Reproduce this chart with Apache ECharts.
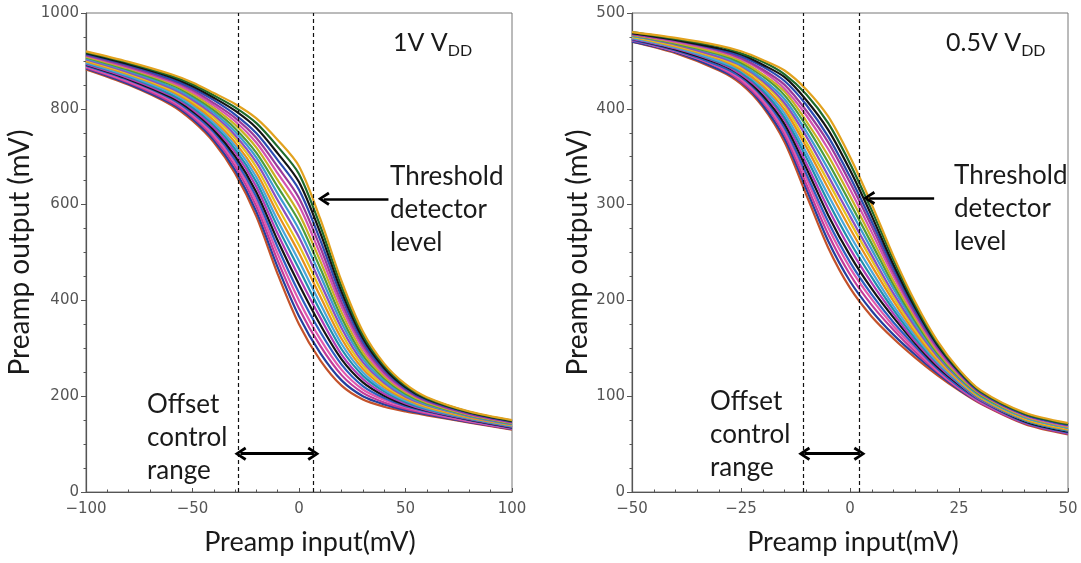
<!DOCTYPE html>
<html><head><meta charset="utf-8">
<script src="https://cdn.jsdelivr.net/npm/echarts@6/dist/echarts.min.js"></script>
<style>html,body{margin:0;padding:0;background:#fff}#c{width:1081px;height:563px}</style>
</head><body><div id="c"></div>
<script>
// ---------- data: 1V VDD panel ----------
const xLeft = [-100,-80,-60,-50,-40,-30,-20,-10,0,10,20,30,40,50,60,80,100];
const curvesLeft = [
  [882,850,808,775,730,665,575,455,350,275,222,193,178,168,160,145,130],
  [884,852,811,779,735,672,585,469,367,290,233,200,183,171,162,146,131],
  [886,855,814,783,740,680,596,483,383,305,244,207,187,174,164,147,132],
  [888,857,818,787,745,687,606,497,400,319,255,214,192,177,166,148,133],
  [890,860,821,791,751,694,616,511,416,334,266,221,196,179,168,150,134],
  [892,862,824,795,756,701,626,525,433,349,277,229,201,182,170,151,135],
  [893,864,827,799,761,709,637,539,449,364,287,236,205,185,171,152,136],
  [895,867,830,803,766,716,647,553,466,378,298,243,210,188,173,153,137],
  [897,869,834,807,771,723,657,567,482,393,309,250,214,191,175,154,138],
  [899,872,837,811,776,730,667,581,499,408,320,257,219,194,177,155,139],
  [901,874,840,815,782,738,678,595,515,423,331,264,223,197,179,157,140],
  [903,876,843,819,787,745,688,609,532,437,342,271,228,199,181,158,141],
  [905,879,846,823,792,752,698,623,548,452,353,278,232,202,183,159,142],
  [907,881,850,827,797,759,708,637,565,467,364,285,237,205,185,160,143],
  [909,884,853,831,802,767,719,651,581,482,375,292,241,208,187,161,144],
  [911,886,856,835,807,774,729,665,598,496,386,300,246,211,189,162,145],
  [912,888,859,839,812,781,739,679,614,511,396,307,250,214,190,163,146],
  [914,891,862,843,818,788,749,693,631,526,407,314,255,216,192,165,147],
  [916,893,866,847,823,796,760,707,647,541,418,321,259,219,194,166,148],
  [918,896,869,851,828,803,770,721,664,555,429,328,264,222,196,167,149],
  [920,898,872,855,833,810,780,735,680,570,440,335,268,225,198,168,150]
];
const offsetLinesLeft = [-28.5, 6.5];
const rangeArrowLeft = [[-27.5, 80], [6.8, 80]];
const thresholdArrowLeft = [[42, 612], [11.6, 612]];

// ---------- data: 0.5V VDD panel ----------
const xRight = [-50,-40,-30,-25,-20,-15,-10,-5,0,5,10,15,20,25,30,40,50];
const curvesRight = [
  [470,458,440,426,402,365,310,255,213,183,160,140,122,106,92,71,60],
  [470,459,441,428,404,369,316,262,220,189,164,143,124,107,93,72,61],
  [471,460,443,429,407,373,321,269,227,195,169,146,126,108,93,72,61],
  [472,460,444,431,409,376,327,276,234,201,173,149,127,109,94,73,62],
  [472,461,445,433,412,380,332,282,240,206,177,152,129,110,95,73,62],
  [473,462,447,435,414,384,338,289,247,212,182,155,131,112,96,74,63],
  [473,463,448,436,417,388,343,296,254,218,186,157,133,113,96,75,64],
  [474,464,449,438,419,391,349,303,261,224,190,160,135,114,97,75,64],
  [474,464,450,440,422,395,354,310,268,230,194,163,136,115,98,76,65],
  [475,465,452,441,424,399,360,317,275,236,199,166,138,116,98,76,65],
  [475,466,453,443,427,403,365,324,282,242,203,169,140,117,99,77,66],
  [476,467,454,445,429,406,371,330,288,247,207,172,142,118,100,78,67],
  [476,468,456,446,431,410,376,337,295,253,212,175,144,119,100,78,67],
  [477,468,457,448,434,414,382,344,302,259,216,178,145,120,101,79,68],
  [477,469,458,450,436,418,387,351,309,265,220,181,147,121,102,79,68],
  [478,470,460,452,439,421,393,358,316,271,225,184,149,123,103,80,69],
  [478,471,461,453,441,425,398,365,323,277,229,186,151,124,103,81,70],
  [479,472,462,455,444,429,404,371,329,282,233,189,153,125,104,81,70],
  [479,472,463,457,446,433,409,378,336,288,237,192,154,126,105,82,71],
  [480,473,465,458,449,436,415,385,343,294,242,195,156,127,105,82,71],
  [480,474,466,460,451,440,420,392,350,300,246,198,158,128,106,83,72]
];
const offsetLinesRight = [-10.8, 2.1];
const rangeArrowRight = [[-10.5, 40], [2.2, 40]];
const thresholdArrowRight = [[19.3, 307], [4.4, 307]];

const curveColors = ['#c4522a','#22409e','#c23b98','#e05aae','#2d5fc0','#141414','#b23cb6',
  '#1f8fae','#4ba6da','#e8901c','#e6c21f','#8a50c0','#3c9bd2','#4c9c3c','#c9b022',
  '#d253b0','#9a3a9a','#2b4bb0','#141414','#1e6a2c','#e2a21e'];

// ---------- chart ----------
const TXT = '#1a1a1a';
const FONT = 'Lato';
const chevron = 'path://M5,0 L10,8 L8.2,9.2 L5,3.6 L1.8,9.2 L0,8 Z';
const tickFmt = v => String(v).replace('-', '\u2212');

function makeX(idx, min, max, interval, minorSplit, shift) {
  return {
    type: 'value', gridIndex: idx, min, max, interval,
    name: 'Preamp input(mV)', nameLocation: 'middle', nameGap: 37,
    nameTextStyle: {fontFamily: FONT, fontSize: 27, color: TXT, padding: [0, 0, 0, shift]},
    axisLine: {show: true, onZero: false, lineStyle: {color: '#555', width: 1.2}},
    axisTick: {show: true, inside: true, length: 4, lineStyle: {color: '#555'}},
    minorTick: {show: true, splitNumber: minorSplit, length: 2.5, lineStyle: {color: '#555'}},
    axisLabel: {fontFamily: 'DejaVu Sans', fontSize: 15, color: '#555', margin: 10, formatter: tickFmt},
    splitLine: {show: false}
  };
}
function makeY(idx, min, max, interval, nameGap) {
  return {
    type: 'value', gridIndex: idx, min, max, interval,
    name: 'Preamp output (mV)', nameLocation: 'middle', nameGap,
    nameTextStyle: {fontFamily: FONT, fontSize: 28, color: TXT},
    axisLine: {show: true, onZero: false, lineStyle: {color: '#555', width: 1.2}},
    axisTick: {show: true, inside: false, length: 5, lineStyle: {color: '#555'}},
    minorTick: {show: true, splitNumber: 4, length: 2.5, lineStyle: {color: '#555'}},
    axisLabel: {fontFamily: 'DejaVu Sans', fontSize: 15, color: '#555', margin: 7, formatter: tickFmt},
    splitLine: {show: false}
  };
}

const series = [];
function addCurves(xs, curves, gi) {
  curves.forEach((ys, k) => {
    series.push({
      type: 'line', xAxisIndex: gi, yAxisIndex: gi, silent: true, z: 2,
      data: xs.map((x, i) => [x, ys[i]]),
      smooth: 0.3, showSymbol: false, symbol: 'none',
      lineStyle: {width: 2.2, color: curveColors[k]}
    });
  });
}
function addAnnotations(gi, offsets, rangeArrow, thrArrow) {
  series.push({
    type: 'line', xAxisIndex: gi, yAxisIndex: gi, data: [], z: 5, silent: true,
    markLine: {silent: true, symbol: 'none', animation: false,
      lineStyle: {type: [4, 3], color: '#111', width: 1.2}, label: {show: false},
      data: offsets.map(v => ({xAxis: v}))}
  });
  series.push({
    type: 'line', xAxisIndex: gi, yAxisIndex: gi, data: [], z: 6, silent: true,
    markLine: {silent: true, symbol: [chevron, chevron], symbolSize: [14, 12], animation: false,
      lineStyle: {type: 'solid', color: '#000', width: 2.8}, label: {show: false},
      data: [[{coord: rangeArrow[0]}, {coord: rangeArrow[1]}]]}
  });
  series.push({
    type: 'line', xAxisIndex: gi, yAxisIndex: gi, data: [], z: 6, silent: true,
    markLine: {silent: true, symbol: ['none', chevron], symbolSize: [14, 12], animation: false,
      lineStyle: {type: 'solid', color: '#000', width: 2.6}, label: {show: false},
      data: [[{coord: thrArrow[0]}, {coord: thrArrow[1]}]]}
  });
}
addCurves(xLeft, curvesLeft, 0);
addCurves(xRight, curvesRight, 1);
addAnnotations(0, offsetLinesLeft, rangeArrowLeft, thresholdArrowLeft);
addAnnotations(1, offsetLinesRight, rangeArrowRight, thresholdArrowRight);

const annStyle = {fontFamily: FONT, fontSize: 26, fill: TXT, lineHeight: 33};
function vdd(label) {
  return {text: '{a|' + label + ' V}{b|DD}', rich: {
    a: {fontFamily: FONT, fontSize: 25, fill: TXT, lineHeight: 32},
    b: {fontFamily: FONT, fontSize: 16, fill: TXT, lineHeight: 14, verticalAlign: 'bottom'}
  }};
}

const option = {
  animation: false,
  backgroundColor: '#fff',
  grid: [
    {left: 86, top: 13, width: 426, height: 479, show: true, borderColor: '#777', borderWidth: 1, backgroundColor: 'transparent'},
    {left: 632, top: 13, width: 436, height: 479, show: true, borderColor: '#777', borderWidth: 1, backgroundColor: 'transparent'}
  ],
  xAxis: [makeX(0, -100, 100, 50, 5, 22), makeX(1, -50, 50, 25, 5, 6)],
  yAxis: [makeY(0, 0, 1000, 200, 52), makeY(1, 0, 500, 100, 40)],
  series,
  graphic: [
    {type: 'text', left: 393, top: 30, style: vdd('1V')},
    {type: 'text', left: 946, top: 30, style: vdd('0.5V')},
    {type: 'text', left: 390, top: 160, style: Object.assign({text: 'Threshold\ndetector\nlevel'}, annStyle)},
    {type: 'text', left: 954, top: 159, style: Object.assign({text: 'Threshold\ndetector\nlevel'}, annStyle)},
    {type: 'text', left: 147, top: 388, style: Object.assign({text: 'Offset\ncontrol\nrange'}, annStyle)},
    {type: 'text', left: 710, top: 385, style: Object.assign({text: 'Offset\ncontrol\nrange'}, annStyle)}
  ]
};
const chart = echarts.init(document.getElementById('c'), null, {renderer: 'canvas'});
chart.setOption(option);
</script>
</body></html>
